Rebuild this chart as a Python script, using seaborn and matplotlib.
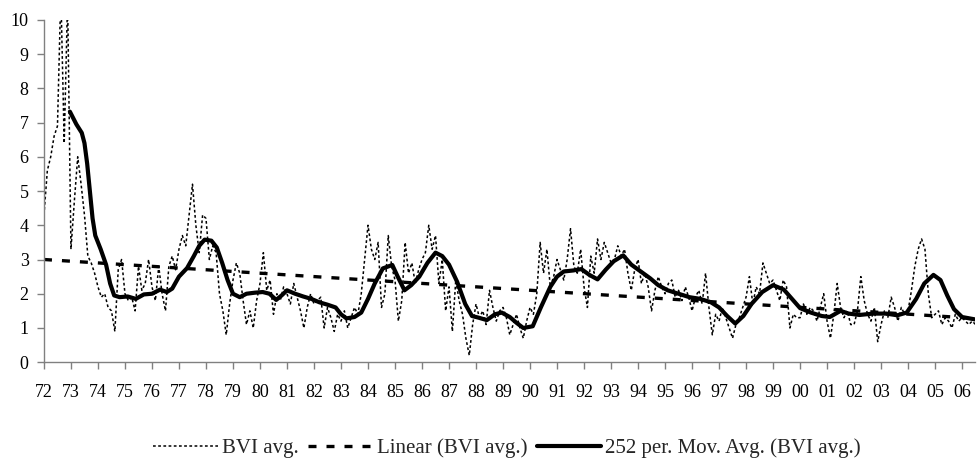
import matplotlib
matplotlib.use("Agg")
import matplotlib.pyplot as plt
import numpy as np
import pandas as pd
import seaborn as sns

# BVI avg. at 8 samples per year, 1972.0 .. 2006.5
bvi_avg = [
    4.3, 5.6, 6.0, 6.6, 6.9, 10.8, 6.4, 10.6,   # 72
    3.3, 4.7, 6.0, 5.2, 4.3, 3.1, 2.9, 2.6,     # 73
    2.2, 1.9, 2.0, 1.6, 1.5, 0.9, 2.7, 3.0,     # 74
    2.0, 1.8, 1.9, 1.5, 2.8, 2.1, 2.3, 3.0,     # 75
    2.2, 1.8, 2.8, 2.0, 1.5, 2.8, 3.1, 2.7,     # 76
    3.3, 3.7, 3.4, 4.3, 5.2, 4.0, 3.2, 4.3,     # 77
    4.2, 3.0, 3.4, 3.2, 2.0, 1.5, 0.8, 1.7,     # 78
    2.4, 2.9, 2.6, 1.8, 1.1, 1.5, 1.0, 1.8,     # 79
    2.3, 3.2, 2.1, 2.4, 1.4, 2.0, 1.8, 2.2,     # 80
    2.0, 1.7, 2.3, 1.9, 1.5, 1.0, 1.6, 2.0,     # 81
    1.7, 1.8, 1.9, 1.0, 1.6, 1.3, 0.9, 1.4,     # 82
    1.2, 1.5, 1.0, 1.3, 1.6, 1.4, 2.0, 3.0,     # 83
    4.0, 3.3, 3.0, 3.5, 1.6, 2.0, 3.7, 2.8,     # 84
    2.4, 1.2, 1.8, 3.5, 2.6, 2.9, 2.3, 2.7,     # 85
    3.0, 3.2, 4.0, 3.3, 3.7, 2.3, 3.0, 1.5,     # 86
    2.2, 0.9, 2.4, 1.8, 1.4, 0.7, 0.2, 1.1,     # 87
    1.7, 1.3, 1.5, 1.1, 2.1, 1.6, 1.2, 1.5,     # 88
    1.6, 1.3, 0.8, 1.1, 1.4, 1.0, 0.7, 1.2,     # 89
    1.6, 1.4, 2.0, 3.5, 2.6, 3.3, 2.2, 2.5,     # 90
    3.0, 2.7, 2.4, 3.0, 3.9, 2.8, 2.6, 3.3,     # 91
    2.2, 1.6, 3.1, 2.6, 3.6, 3.0, 3.5, 3.2,     # 92
    2.9, 3.0, 3.4, 3.1, 3.3, 2.6, 2.1, 2.7,     # 93
    3.0, 2.3, 2.6, 2.2, 1.5, 2.1, 2.5, 2.2,     # 94
    2.0, 2.3, 2.4, 1.9, 2.1, 1.8, 2.2, 1.9,     # 95
    1.5, 1.9, 2.1, 1.7, 2.6, 1.6, 0.8, 1.4,     # 96
    1.2, 1.6, 1.3, 1.0, 0.7, 1.1, 1.3, 1.6,     # 97
    1.9, 2.5, 1.7, 2.2, 2.0, 2.9, 2.6, 2.3,     # 98
    2.4, 2.1, 1.8, 2.4, 2.2, 1.0, 1.4, 1.3,     # 99
    1.3, 1.7, 1.4, 1.6, 1.5, 1.2, 1.6, 2.0,     # 00
    1.2, 0.7, 1.4, 2.3, 1.6, 1.3, 1.5, 1.1,     # 01
    1.1, 1.5, 2.5, 1.8, 1.4, 1.2, 1.6, 0.6,     # 02
    1.1, 1.5, 1.3, 1.9, 1.6, 1.2, 1.6, 1.4,     # 03
    1.5, 2.1, 2.8, 3.3, 3.6, 3.3, 2.0, 1.3,     # 04
    1.4, 1.5, 1.1, 1.3, 1.2, 1.0, 1.4, 1.2,     # 05
    1.3, 1.2, 1.1, 1.2, 1.1,                    # 06
]
bvi_years = 1972 + np.arange(len(bvi_avg)) / 8

# 252 per. moving average
ma_years = [
    1972.96, 1973.2, 1973.4, 1973.5, 1973.6, 1973.7, 1973.8, 1973.9, 1974.1, 1974.3,
    1974.45, 1974.6, 1974.8, 1975.1, 1975.4, 1975.7, 1976.0, 1976.3, 1976.55, 1976.75,
    1977.0, 1977.3, 1977.55, 1977.75, 1977.95, 1978.2, 1978.4, 1978.6, 1978.8, 1979.0,
    1979.25, 1979.5, 1979.8, 1980.1, 1980.35, 1980.6, 1980.8, 1981.0, 1981.3, 1981.6,
    1981.9, 1982.2, 1982.5, 1982.8, 1983.0, 1983.2, 1983.5, 1983.75, 1984.0, 1984.25,
    1984.55, 1984.9, 1985.1, 1985.35, 1985.6, 1985.9, 1986.2, 1986.5, 1986.75, 1987.0,
    1987.3, 1987.6, 1987.85, 1988.1, 1988.4, 1988.7, 1988.95, 1989.25, 1989.5, 1989.75,
    1990.1, 1990.4, 1990.75, 1991.0, 1991.25, 1991.6, 1991.9, 1992.2, 1992.5, 1992.8,
    1993.1, 1993.45, 1993.75, 1994.1, 1994.45, 1994.75, 1995.1, 1995.5, 1995.9, 1996.3,
    1996.7, 1997.0, 1997.3, 1997.6, 1997.9, 1998.2, 1998.6, 1999.0, 1999.4, 1999.7,
    2000.0, 2000.4, 2000.8, 2001.1, 2001.5, 2001.8, 2002.2, 2002.7, 2003.2, 2003.6,
    2003.95, 2004.3, 2004.6, 2004.94, 2005.2, 2005.45, 2005.7, 2006.0, 2006.48,
]
ma_vals = [
    7.32, 6.95, 6.7, 6.4, 5.8, 5.0, 4.2, 3.7, 3.3, 2.85,
    2.3, 1.95, 1.9, 1.92, 1.85, 1.98, 2.0, 2.12, 2.05, 2.15,
    2.5, 2.75, 3.1, 3.4, 3.58, 3.55, 3.35, 2.9, 2.4, 2.0,
    1.9, 2.0, 2.03, 2.05, 2.0, 1.82, 1.95, 2.1, 2.0, 1.92,
    1.85, 1.75, 1.68, 1.6, 1.4, 1.28, 1.32, 1.45, 1.85, 2.3,
    2.74, 2.84, 2.5, 2.1, 2.25, 2.5, 2.9, 3.2, 3.1, 2.85,
    2.35, 1.7, 1.35, 1.3, 1.23, 1.4, 1.45, 1.32, 1.15, 1.0,
    1.05, 1.6, 2.2, 2.5, 2.65, 2.68, 2.72, 2.55, 2.42, 2.7,
    2.95, 3.12, 2.85, 2.65, 2.45, 2.25, 2.1, 2.0, 1.9, 1.85,
    1.75, 1.6, 1.35, 1.13, 1.35, 1.7, 2.05, 2.25, 2.12, 1.85,
    1.58, 1.45, 1.35, 1.32, 1.5, 1.42, 1.38, 1.42, 1.42, 1.37,
    1.45, 1.85, 2.3, 2.55, 2.4, 1.95, 1.55, 1.32, 1.25,
]

# Linear trend end points
trend_years = [1972.0, 2006.48]
trend_vals = [3.0, 1.28]

year_ticks = list(range(1972, 2007))
year_labels = [f"{y % 100:02d}" for y in year_ticks]

raw = pd.DataFrame({"year": bvi_years, "bvi": bvi_avg})
ma = pd.DataFrame({"year": ma_years, "bvi": ma_vals})
trend = pd.DataFrame({"year": trend_years, "bvi": trend_vals})

sns.set_theme(style="ticks")
plt.rcParams["font.family"] = ["Liberation Serif", "DejaVu Serif"]
plt.rcParams["font.size"] = 13

fig = plt.figure(figsize=(9.77, 4.62), dpi=100)
ax = fig.add_axes([0.045, 0.216, 0.953, 0.741])

sns.lineplot(ax=ax, data=raw, x="year", y="bvi", color="black", linewidth=1.1,
             linestyle=(0, (1.8, 1.6)), errorbar=None, label="BVI avg.")
sns.lineplot(ax=ax, data=trend, x="year", y="bvi", color="black", linewidth=2.4,
             linestyle=(0, (2.4, 3.0)), errorbar=None, label="Linear (BVI avg.)")
sns.lineplot(ax=ax, data=ma, x="year", y="bvi", color="black", linewidth=3.0,
             errorbar=None, label="252 per. Mov. Avg. (BVI avg.)")

ax.set_xlim(1972, 2006.48)
ax.set_ylim(0, 10)
ax.set_xticks(year_ticks)
ax.set_xticklabels(year_labels)
ax.set_yticks(range(0, 11))
ax.set_xlabel("")
ax.set_ylabel("")

for side in ["top", "right"]:
    ax.spines[side].set_visible(False)
for side in ["left", "bottom"]:
    ax.spines[side].set_color("#808080")
    ax.spines[side].set_linewidth(1.0)
ax.tick_params(axis="both", colors="#808080", labelcolor="black", length=5, width=1.0,
               labelsize=13)
ax.tick_params(axis="x", pad=11)
ax.tick_params(axis="y", pad=6)

handles, labels = ax.get_legend_handles_labels()
ax.legend().remove()
fig.legend(handles, labels, loc="center", bbox_to_anchor=(0.519, 0.03), ncol=3,
           frameon=False, fontsize=15, handlelength=3.1, handletextpad=0.2,
           columnspacing=0.45, borderpad=0.1)

plt.savefig("out.png", dpi=100)
